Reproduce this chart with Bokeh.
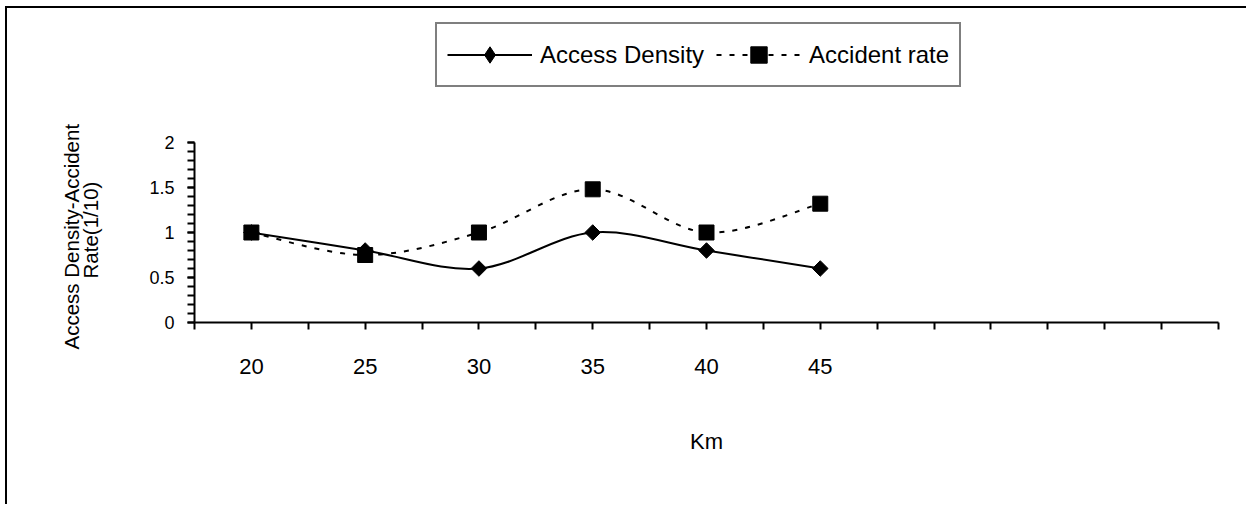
import numpy as np
from bokeh.plotting import figure
from bokeh.models import (Range1d, FixedTicker, Legend, LegendItem, ColumnDataSource,
                          Title, LinearAxis)
from bokeh.embed import file_html
from bokeh.resources import INLINE

# ---- data ----
km = [20, 25, 30, 35, 40, 45]
access_density = [1.0, 0.8, 0.6, 1.0, 0.8, 0.6]
accident_rate = [1.0, 0.75, 1.0, 1.48, 1.0, 1.32]
y_ticks = [0, 0.5, 1, 1.5, 2]
y_title_lines = ["Access Density-Accident", "Rate(1/10)"]

FONT = "Liberation Sans"


def smooth_segments(xs, ys):
    """Bezier control points (Catmull-Rom style) through the data points."""
    n = len(xs)
    x0, y0, x1, y1, cx0, cy0, cx1, cy1 = [], [], [], [], [], [], [], []
    for i in range(n - 1):
        pm = max(i - 1, 0)
        pn = min(i + 2, n - 1)
        x0.append(xs[i]); y0.append(ys[i])
        x1.append(xs[i + 1]); y1.append(ys[i + 1])
        cx0.append(xs[i] + (xs[i + 1] - xs[pm]) / 6.0)
        cy0.append(ys[i] + (ys[i + 1] - ys[pm]) / 6.0)
        cx1.append(xs[i + 1] - (xs[pn] - xs[i]) / 6.0)
        cy1.append(ys[i + 1] - (ys[pn] - ys[i]) / 6.0)
    return ColumnDataSource(dict(x0=x0, y0=y0, x1=x1, y1=y1,
                                 cx0=cx0, cy0=cy0, cx1=cx1, cy1=cy1))


W, H = 1241, 498
# frame spans from canvas y=8 to y=314 (306 px); 90 px per unit -> top = 3.4
p = figure(width=W, height=H, output_backend="svg", toolbar_location=None,
           x_range=Range1d(17.5, 62.5), y_range=Range1d(0, 3.4),
           min_border_left=187, min_border_top=8, min_border_right=30,
           min_border_bottom=184)
p.styles = {"border-left": "2px solid black", "border-top": "2px solid black",
            "margin-left": "5px", "margin-top": "6px"}
p.outline_line_color = None
p.xgrid.visible = False
p.ygrid.visible = False
p.background_fill_color = "white"
p.border_fill_color = "white"

# x axis
x_tick_pos = [17.5 + 2.5 * i for i in range(19)]
p.xaxis.ticker = FixedTicker(ticks=x_tick_pos, minor_ticks=[])
p.xaxis.major_label_overrides = {t: (str(int(t)) if t in km else "") for t in x_tick_pos}
p.xaxis.axis_label = "Km"
p.xaxis.axis_label_text_font = FONT
p.xaxis.axis_label_text_font_size = "22px"
p.xaxis.axis_label_text_font_style = "normal"
p.xaxis.axis_label_standoff = 52
p.xaxis.major_label_text_font = FONT
p.xaxis.major_label_text_font_size = "22px"
p.xaxis.major_label_standoff = 29
p.xaxis.axis_line_width = 2
p.xaxis.major_tick_line_width = 2
p.xaxis.major_tick_in = 0
p.xaxis.major_tick_out = 7

# y axis (drawn only over 0..2)
p.yaxis.bounds = (0, 2)
p.yaxis.ticker = FixedTicker(ticks=y_ticks, minor_ticks=[i / 10 for i in range(21)])
p.yaxis.major_label_text_font = FONT
p.yaxis.major_label_text_font_size = "18px"
p.yaxis.major_label_standoff = 13
p.yaxis.major_label_overrides = {0: "0", 0.5: "0.5", 1: "1", 1.5: "1.5", 2: "2"}
p.yaxis.axis_line_width = 2
p.yaxis.major_tick_line_width = 2
p.yaxis.minor_tick_line_width = 2
p.yaxis.major_tick_in = 0
p.yaxis.major_tick_out = 7
p.yaxis.minor_tick_in = 0
p.yaxis.minor_tick_out = 7
for ax in (p.xaxis, p.yaxis):
    ax.axis_line_color = "black"
    ax.major_tick_line_color = "black"
    ax.minor_tick_line_color = "black"
    ax.major_label_text_color = "black"
    ax.axis_label_text_color = "black"

# transparent spacer axis: only reserves room between tick labels and the axis title
spacer = LinearAxis(ticker=FixedTicker(ticks=[1.0], minor_ticks=[]),
                    axis_line_alpha=0, major_tick_line_alpha=0, minor_tick_line_alpha=0,
                    major_tick_in=0, major_tick_out=40, minor_tick_in=0, minor_tick_out=0,
                    major_label_standoff=0, major_label_text_alpha=0,
                    major_label_overrides={1.0: ""})
p.add_layout(spacer, "left")

# y axis title as two side titles, centred on the 0..2 span
t_rate = Title(text=y_title_lines[1], align="left", offset=44, standoff=10,
               text_font=FONT, text_font_size="20.5px", text_font_style="normal",
               text_color="black")
t_access = Title(text=y_title_lines[0], align="left", offset=-27, standoff=-22,
                 text_font=FONT, text_font_size="20.5px", text_font_style="normal",
                 text_color="black")
p.add_layout(t_rate, "left")
p.add_layout(t_access, "left")

# series
src_a = smooth_segments(km, access_density)
src_b = smooth_segments(km, accident_rate)

bez_a = p.bezier(x0="x0", y0="y0", x1="x1", y1="y1", cx0="cx0", cy0="cy0",
                 cx1="cx1", cy1="cy1", source=src_a, line_color="black", line_width=2)
sc_a = p.scatter(km, access_density, marker="square", angle=np.pi / 4, size=11,
                 fill_color="black", line_color="black")
# legend swatch for the diamond (legend glyphs are never rotated); draws nothing in the plot
proxy_a = p.scatter([float("nan")], [float("nan")], marker="diamond", size=18,
                    fill_color="black", line_color="black")

bez_b = p.bezier(x0="x0", y0="y0", x1="x1", y1="y1", cx0="cx0", cy0="cy0",
                 cx1="cx1", cy1="cy1", source=src_b, line_color="black", line_width=2,
                 line_dash="5 8")
sc_b = p.scatter(km, accident_rate, marker="square", size=15,
                 fill_color="black", line_color="black")

legend = Legend(items=[LegendItem(label="Access Density", renderers=[bez_a, proxy_a]),
                       LegendItem(label="Accident rate", renderers=[bez_b, sc_b])],
                orientation="horizontal", location=(241, 235))
legend.label_text_font = FONT
legend.label_text_font_size = "24px"
legend.label_text_color = "black"
legend.glyph_width = 85
legend.glyph_height = 41
legend.label_height = 41
legend.label_standoff = 8
legend.spacing = 12
legend.padding = 10
legend.margin = 0
legend.border_line_color = "black"
legend.border_line_width = 2
legend.background_fill_alpha = 1
p.add_layout(legend, "center")

open("out.html", "w").write(file_html(p, INLINE))
